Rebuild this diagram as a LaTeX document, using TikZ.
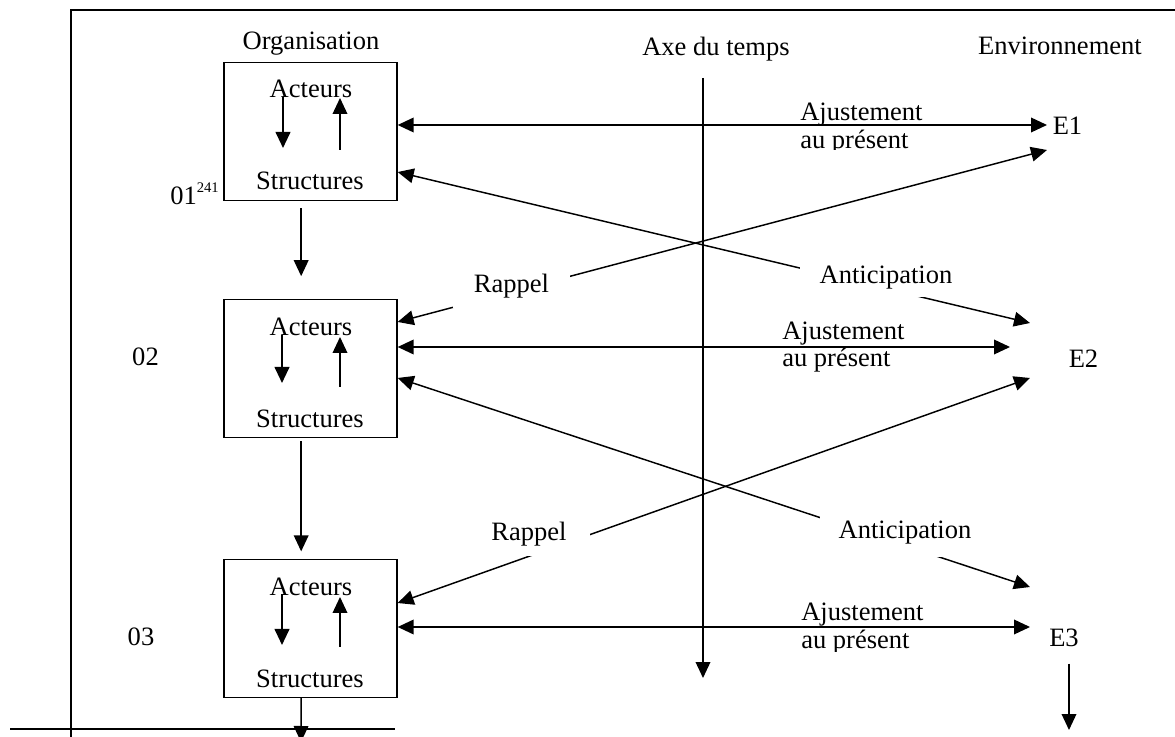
\documentclass[tikz,border=0pt]{standalone}
\usepackage{fontspec}
\setmainfont{Liberation Serif}
\usetikzlibrary{arrows.meta,calc}
\begin{document}
\begin{tikzpicture}[x=0.75pt,y=-0.75pt,
  txt/.style={font=\fontsize{19.9pt}{24pt}\selectfont, inner sep=0pt, anchor=base},
  txtw/.style={txt, anchor=base west},
  orgbox/.style={draw, line width=1pt, minimum width=129.75pt, minimum height=103.5pt, inner sep=0pt},
  arr/.style={line width=1.1pt, -{Triangle[length=12pt,width=11pt]}},
  darr/.style={line width=1.1pt, {Triangle[length=12pt,width=11pt]}-{Triangle[length=12pt,width=11pt]}},
  lbl/.style={fill=white, inner sep=0pt, font=\fontsize{19.9pt}{24pt}\selectfont},
  frame/.style={line width=1.5pt}
]
\useasboundingbox (0,0) rectangle (1175,737);
\clip (0,0) rectangle (1175,737);

% frame
\draw[frame] (71,737) -- (71,10) -- (1175,10);
\draw[frame] (10,729) -- (395,729);

% titles
\node[txt] (org) at (311,50) {Organisation};
\node[txt] (axe) at (716,56) {Axe du temps};
\node[txt] (env) at (1060,55) {Environnement};

% organisation boxes
\node[orgbox] (o1) at (310.5,131.5) {};
\node[orgbox] (o2) at (310.5,368.5) {};
\node[orgbox] (o3) at (310.5,628.5) {};

\node[txt] (a1) at (311,98) {Acteurs};
\node[txt] (s1) at (310,190) {Structures};
\node[txt] (a2) at (311,336) {Acteurs};
\node[txt] (s2) at (310,428) {Structures};
\node[txt] (a3) at (311,595) {Acteurs};
\node[txt] (s3) at (310,687) {Structures};

% inner arrows
\coordinate (d1s) at (283,97);  \coordinate (d1e) at (283,148);
\coordinate (u1s) at (340,150); \coordinate (u1e) at (340,98);
\coordinate (d2s) at (282,335); \coordinate (d2e) at (282,383);
\coordinate (u2s) at (340,387); \coordinate (u2e) at (340,337);
\coordinate (d3s) at (282,594); \coordinate (d3e) at (282,645);
\coordinate (u3s) at (340,647); \coordinate (u3e) at (340,597);
\draw[arr, line width=1.5pt] (d1s) -- (d1e);
\draw[arr] (u1s) -- (u1e);
\draw[arr, line width=1.5pt] (d2s) -- (d2e);
\draw[arr] (u2s) -- (u2e);
\draw[arr, line width=1.5pt] (d3s) -- (d3e);
\draw[arr] (u3s) -- (u3e);

% side labels
\node[txtw] (l1) at (170,205) {01\raisebox{9pt}{\fontsize{11pt}{13pt}\selectfont 241}};
\node[txt] (l2) at (145.5,366) {02};
\node[txt] (l3) at (141,645) {03};

% arrows between boxes
\coordinate (c3e) at (301,742);
\draw[arr, shorten <=5.25pt, shorten >=17pt] ([xshift=-7pt]o1.south) -- ([xshift=-7pt]o2.north);
\draw[arr, shorten <=2.25pt, shorten >=5.6pt] ([xshift=-7pt]o2.south) -- ([xshift=-7pt]o3.north);
\draw[arr] ([xshift=-7pt]o3.south) -- (c3e);

% environment
\node[txt] (E1) at (1067.5,135) {E1};
\node[txt] (E2) at (1083.5,368) {E2};
\node[txt] (E3) at (1064,647) {E3};
\coordinate (e3d) at (1069,730);
\draw[arr, shorten <=12pt] (E3.south -| e3d) -- (e3d);

% time axis
\coordinate (axs) at (703,78);
\coordinate (axt) at (703,678);
\draw[arr] (axs) -- (axt);

% ajustement
\coordinate (t1) at (1047,125);
\coordinate (t2) at (1010,347);
\coordinate (t3) at (1030,627);
\draw[darr] (o1.east |- t1) -- (t1);
\draw[darr] (o2.east |- t2) -- (t2);
\draw[darr] (o3.east |- t3) -- (t3);

\begin{scope}
\clip (780,95) rectangle (940,150);
\node[txtw] (aj1) at (800,121) {Ajustement};
\node[txtw] (ap1) at (800,149) {au présent};
\end{scope}
\node[txtw] (aj2) at (782,340) {Ajustement};
\node[txtw] (ap2) at (782,367) {au présent};
\begin{scope}
\clip (780,595) rectangle (940,652);
\node[txtw] (aj3) at (801,620) {Ajustement};
\node[txtw] (ap3) at (801,648) {au présent};
\end{scope}

% rappel / anticipation (double headed)
\coordinate (r1s) at (1047,150);
\coordinate (n1e) at (1030,323);
\coordinate (r2s) at (1030,378);
\coordinate (n2e) at (1030,587);
\draw[darr] (r1s) -- ([yshift=34.9pt]o2.east);
\draw[darr] ([yshift=-30.4pt]o1.east) -- (n1e);
\draw[darr] (r2s) -- ([yshift=19.1pt]o3.east);
\draw[darr] ([yshift=-7.1pt]o2.east) -- (n2e);

\node[lbl, minimum width=87.75pt, minimum height=31.9pt] (rap1) at (511.5,286.25) {Rappel};
\node[lbl, minimum width=129pt, minimum height=29.25pt] (ant1) at (886,277.5) {Anticipation};
\node[lbl, minimum width=91.5pt, minimum height=33pt] (rap2) at (529,534) {Rappel};
\node[lbl, minimum width=127.5pt, minimum height=36.75pt] (ant2) at (905,532.5) {Anticipation};
\end{tikzpicture}
\end{document}
